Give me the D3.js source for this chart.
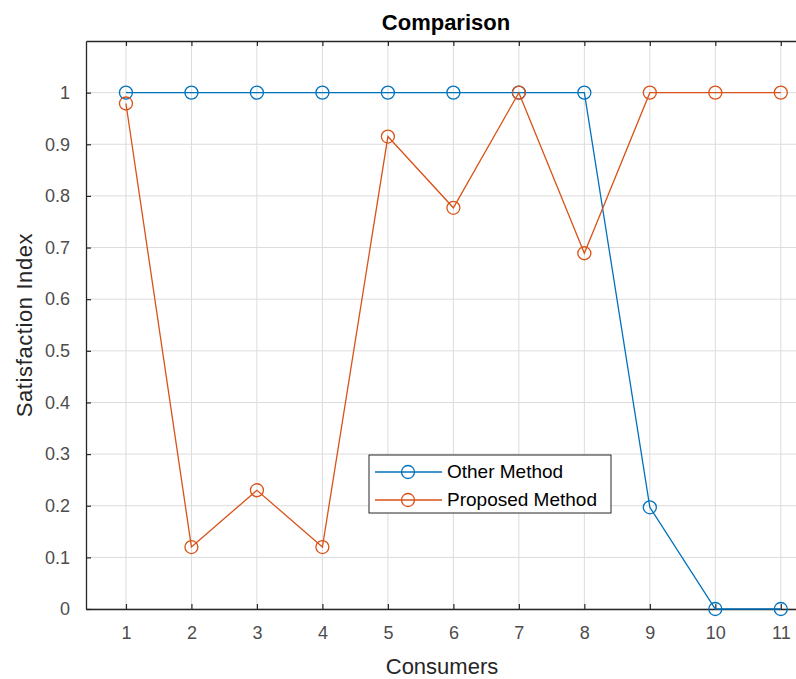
<!DOCTYPE html>
<html>
<head>
<meta charset="utf-8">
<script src="https://cdn.jsdelivr.net/npm/d3@7"></script>
<style>
  body { margin: 0; background: #fff; }
  svg { display: block; font-family: "Liberation Sans", Arial, sans-serif; }
  .grid line { stroke: #dcdcdc; stroke-width: 1; }
</style>
</head>
<body>
<div id="chart"></div>
<script>
// data
let consumers = [1, 2, 3, 4, 5, 6, 7, 8, 9, 10, 11];
let otherMethod = [1, 1, 1, 1, 1, 1, 1, 1, 0.197, 0, 0];
let proposedMethod = [0.979, 0.12, 0.23, 0.12, 0.915, 0.777, 1, 0.689, 1, 1, 1];
let yTicks = [0, 0.1, 0.2, 0.3, 0.4, 0.5, 0.6, 0.7, 0.8, 0.9, 1];
let seriesNames = ["Other Method", "Proposed Method"];
let seriesColours = ["#0072BD", "#D95319"];

let width = 796, height = 679;
let margin = { top: 41, right: -11, bottom: 70, left: 86 };

let svg = d3.select("#chart").append("svg")
  .attr("width", width)
  .attr("height", height);

let x = d3.scaleLinear()
  .domain([0.39, 11.4])
  .range([margin.left, width - margin.right]);

let y = d3.scaleLinear()
  .domain([0, 1.1])
  .range([height - margin.bottom, margin.top]);

let plotBottom = height - margin.bottom;

// grid
let grid = svg.append("g").classed("grid", true);
grid.selectAll(".vgrid")
  .data(consumers)
  .enter().append("line")
    .attr("x1", d => x(d)).attr("x2", d => x(d))
    .attr("y1", margin.top).attr("y2", plotBottom);
grid.selectAll(".hgrid")
  .data(yTicks)
  .enter().append("line")
    .attr("x1", margin.left).attr("x2", width)
    .attr("y1", d => y(d)).attr("y2", d => y(d));

// axes
let xAxis = d3.axisBottom(x).tickValues(consumers).tickSizeInner(-5).tickSizeOuter(0).tickPadding(17);
let xTop = d3.axisTop(x).tickValues(consumers).tickSizeInner(-5).tickSizeOuter(0).tickFormat("");
let yAxis = d3.axisLeft(y).tickValues(yTicks).tickSizeInner(-5).tickSizeOuter(0).tickPadding(16)
  .tickFormat(d => d3.format("")(+d.toFixed(1)));

function styleAxis(g) {
  g.attr("font-family", null).attr("font-size", null);
  g.select(".domain").attr("stroke", "#262626").attr("stroke-width", 1.3);
  g.selectAll(".tick line").attr("stroke", "#262626").attr("stroke-width", 1.2);
  g.selectAll(".tick text").attr("fill", "#4d4d4d").style("font-size", "18px");
}

svg.append("g")
  .attr("transform", "translate(0," + plotBottom + ")")
  .call(xAxis).call(styleAxis);

svg.append("g")
  .attr("transform", "translate(0," + margin.top + ")")
  .call(xTop).call(styleAxis);

svg.append("g")
  .attr("transform", "translate(" + margin.left + ",0)")
  .call(yAxis).call(styleAxis);

// series
let series = [otherMethod, proposedMethod];
let line = d3.line()
  .x((d, i) => x(consumers[i]))
  .y(d => y(d));

series.forEach(function(s, k) {
  let g = svg.append("g");
  g.append("path")
    .datum(s)
    .attr("fill", "none")
    .attr("stroke", seriesColours[k])
    .attr("stroke-width", 1.3)
    .attr("d", line);
  g.selectAll("circle")
    .data(s)
    .enter().append("circle")
      .attr("cx", (d, i) => x(consumers[i]))
      .attr("cy", d => y(d))
      .attr("r", 6.5)
      .attr("fill", "none")
      .attr("stroke", seriesColours[k])
      .attr("stroke-width", 1.3);
});

// title and labels
svg.append("text")
  .attr("x", 446)
  .attr("y", 30)
  .attr("text-anchor", "middle")
  .style("font-size", "22px")
  .style("font-weight", "bold")
  .attr("fill", "#000")
  .text("Comparison");

svg.append("text")
  .attr("x", 442)
  .attr("y", 674)
  .attr("text-anchor", "middle")
  .style("font-size", "22px")
  .attr("fill", "#262626")
  .text("Consumers");

svg.append("text")
  .attr("transform", "translate(32," + ((margin.top + plotBottom) / 2) + ") rotate(-90)")
  .attr("text-anchor", "middle")
  .style("font-size", "22px")
  .style("letter-spacing", "0.6px")
  .attr("fill", "#262626")
  .text("Satisfaction Index");

// legend
let legend = svg.append("g").attr("transform", "translate(369,455)");
legend.append("rect")
  .attr("width", 242)
  .attr("height", 58)
  .attr("fill", "#fff")
  .attr("stroke", "#262626")
  .attr("stroke-width", 1);

seriesNames.forEach(function(name, k) {
  let ly = 17 + k * 28;
  legend.append("line")
    .attr("x1", 6).attr("x2", 73)
    .attr("y1", ly).attr("y2", ly)
    .attr("stroke", seriesColours[k])
    .attr("stroke-width", 1.3);
  legend.append("circle")
    .attr("cx", 39).attr("cy", ly).attr("r", 6.5)
    .attr("fill", "none")
    .attr("stroke", seriesColours[k])
    .attr("stroke-width", 1.3);
  legend.append("text")
    .attr("x", 78).attr("y", ly + 6)
    .style("font-size", "19px")
    .attr("fill", "#000")
    .text(name);
});
</script>
</body>
</html>
